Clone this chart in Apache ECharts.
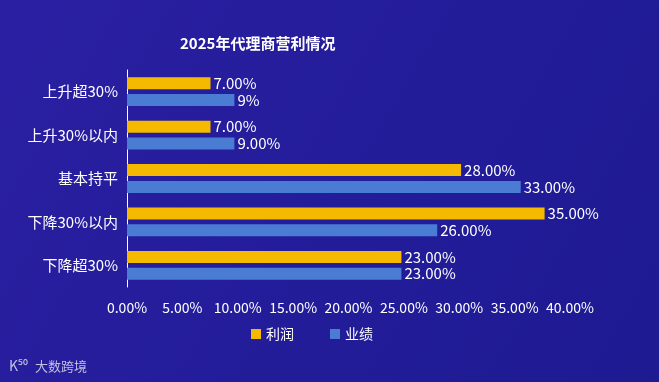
<!DOCTYPE html>
<html><head><meta charset="utf-8">
<script src="https://cdn.jsdelivr.net/npm/echarts@6/dist/echarts.min.js"></script>
<style>html,body{margin:0;padding:0;background:#231aa0;}#c{width:659px;height:382px;}</style>
</head><body><div id="c"></div>
<script>
const categories = ['上升超30%', '上升30%以内', '基本持平', '下降30%以内', '下降超30%'];
const profit = [7, 7, 28, 35, 23];
const performance = [9, 9, 33, 26, 23];
const profitLabels = ['7.00%', '7.00%', '28.00%', '35.00%', '23.00%'];
const performanceLabels = ['9%', '9.00%', '33.00%', '26.00%', '23.00%'];
const tickValues = [0, 5, 10, 15, 20, 25, 30, 35, 40];

const FONT = '"Noto Sans CJK SC", "Noto Sans", sans-serif';
const chart = echarts.init(document.getElementById('c'));
chart.setOption({
  backgroundColor: new echarts.graphic.LinearGradient(0, 0, 1, 1, [
    {offset: 0, color: '#2a1fa2'}, {offset: 1, color: '#1d1a92'}
  ]),
  textStyle: {fontFamily: FONT},
  title: {
    text: '2025年代理商营利情况', left: 175, top: 31,
    textStyle: {color: '#ffffff', fontSize: 15, fontWeight: 'bold', fontFamily: FONT}
  },
  legend: {
    bottom: 36, left: 246, itemWidth: 10, itemHeight: 10, itemGap: 36,
    icon: 'rect',
    textStyle: {color: '#ffffff', fontSize: 14, fontFamily: FONT},
    data: ['利润', '业绩']
  },
  grid: {left: 127, right: 89, top: 70, bottom: 95, containLabel: false},
  xAxis: [{
    type: 'value', min: 0, max: 40, interval: 5,
    axisLine: {show: false}, axisTick: {show: false}, splitLine: {show: false},
    axisLabel: {color: '#ffffff', fontSize: 14, margin: 14, fontFamily: FONT,
      formatter: v => v.toFixed(2) + '%'}
  }, {
    type: 'value', min: 0, max: 37.13, show: false, position: 'bottom'
  }],
  yAxis: {
    type: 'category', inverse: true, data: categories,
    axisLine: {show: true, lineStyle: {color: '#ffffff', width: 1}},
    axisTick: {show: false},
    axisLabel: {color: '#ffffff', fontSize: 15, margin: 9, fontFamily: FONT}
  },
  series: [{
    name: '利润', type: 'bar', xAxisIndex: 1, data: profit,
    barWidth: 12, barGap: '40%',
    itemStyle: {color: '#f5ba00'},
    label: {show: true, position: 'right', distance: 3, color: '#ffffff', fontSize: 15, fontFamily: FONT,
      formatter: p => profitLabels[p.dataIndex]}
  }, {
    name: '业绩', type: 'bar', xAxisIndex: 1, data: performance,
    barWidth: 12, barGap: '40%',
    itemStyle: {color: '#4a7cd4'},
    label: {show: true, position: 'right', distance: 3, color: '#ffffff', fontSize: 15, fontFamily: FONT,
      formatter: p => performanceLabels[p.dataIndex]}
  }],
  graphic: [{
    type: 'text', left: 35, top: 360,
    style: {text: '大数跨境', fill: 'rgba(220,220,240,0.85)', font: '13px ' + FONT}
  }, {
    type: 'text', left: 9, top: 359,
    style: {text: 'K⁵⁰', fill: 'rgba(220,220,240,0.85)', font: '14px ' + FONT}
  }]
});
</script></body></html>
